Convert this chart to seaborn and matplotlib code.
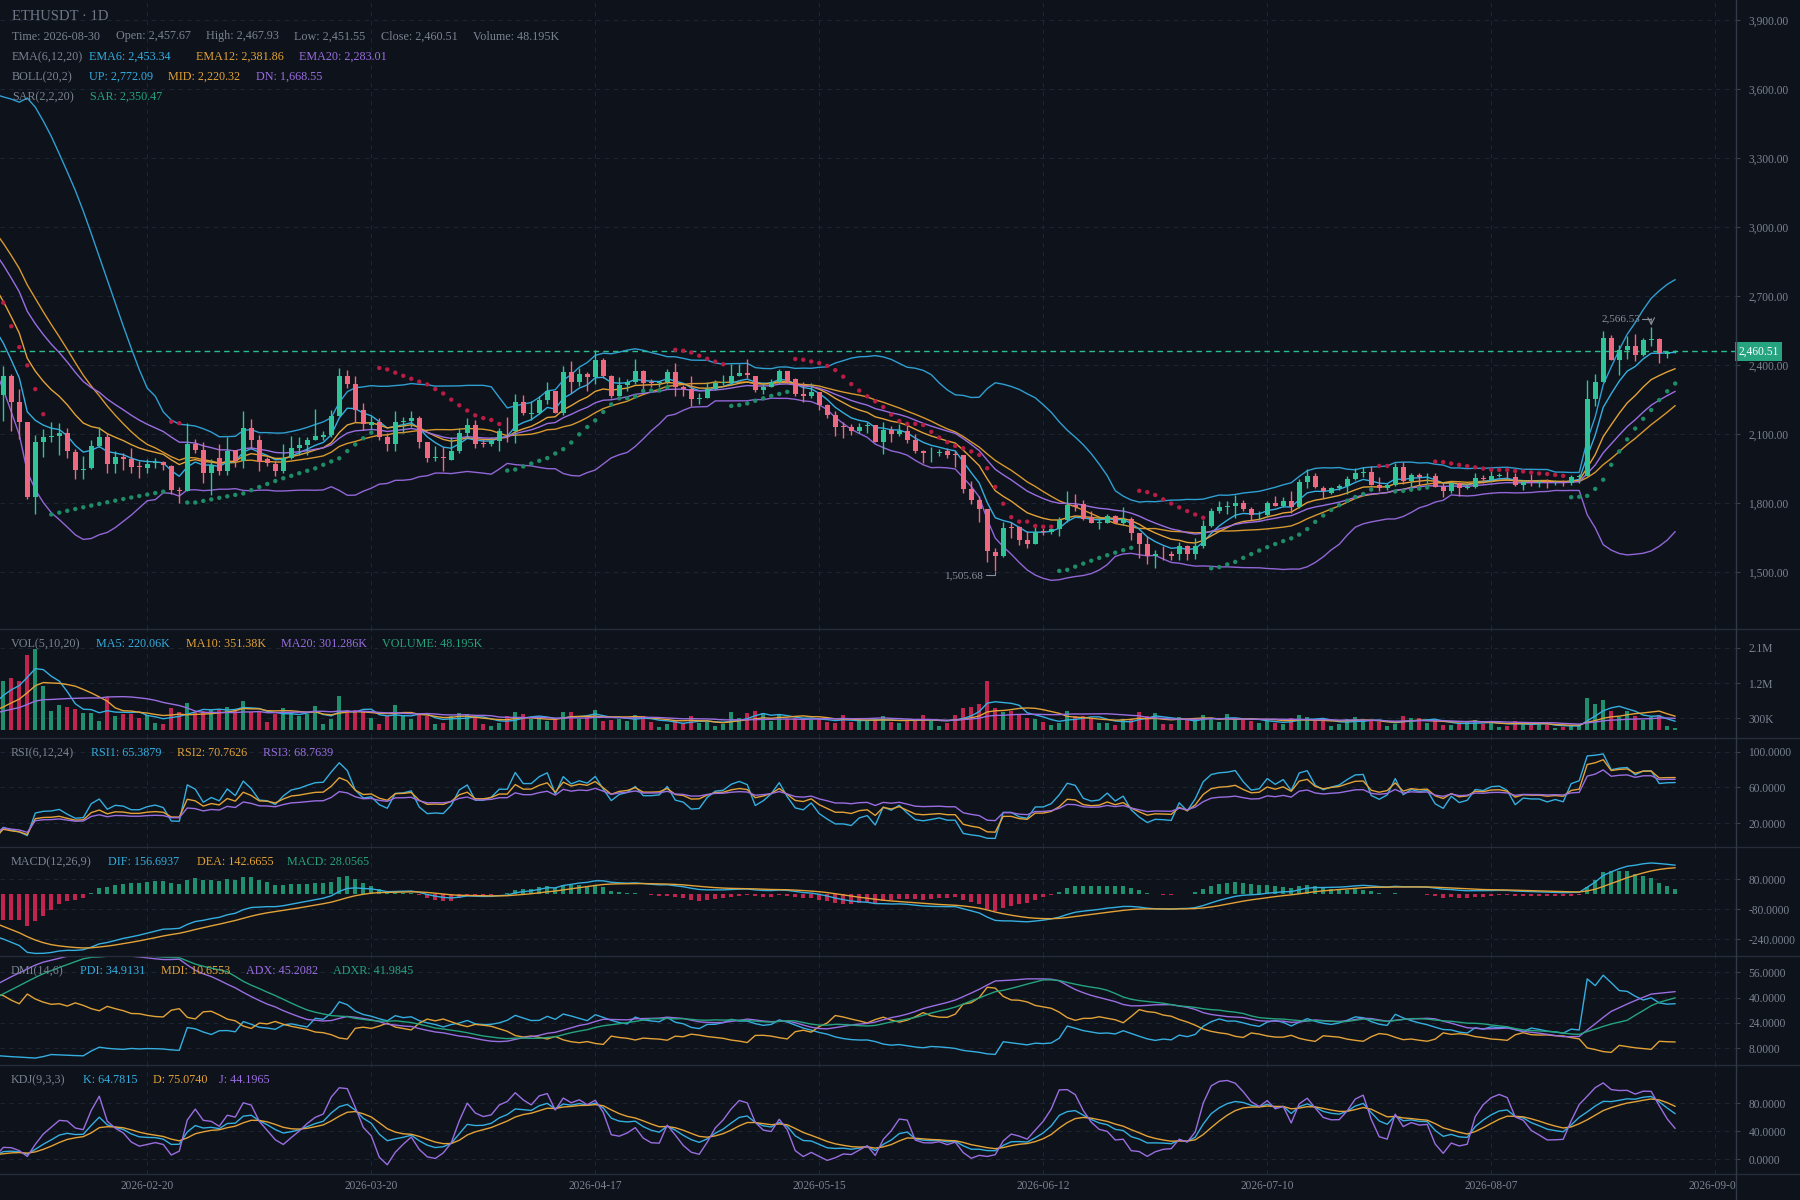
import numpy as np
import pandas as pd
import matplotlib
matplotlib.use('Agg')
import matplotlib.pyplot as plt
import seaborn as sns
from matplotlib.lines import Line2D
from matplotlib.transforms import blended_transform_factory

sns.set_theme(style='dark')
plt.rcParams['font.family'] = ['Liberation Serif', 'DejaVu Serif']

BG = '#0d121b'
GRID = '#1e2531'
TXT = '#7b8391'
CYAN = '#35aee0'
ORANGE = '#e3a238'
PURPLE = '#9a6ee0'
TEAL = '#26a37f'
UP = '#2ec497'
DOWN = '#ef6880'
VUP = '#1f8f6e'
VDOWN = '#c0254f'

# --- warm-up days before the visible window (only feed the indicators) ---
pre_open = [3400, 3420, 3460, 3390, 3350, 3410, 3440, 3380, 3330, 3360, 3400, 3370, 3320, 3340, 3310, 3290, 3320, 3300,
            3280, 3260, 3240, 3250, 3200, 3170, 3130, 3090, 3050, 2990, 2930, 2870, 2800, 2730, 2650, 2570, 2470]
pre_high = [3445, 3490, 3475, 3410, 3430, 3470, 3455, 3395, 3385, 3425, 3415, 3385, 3360, 3365, 3330, 3340, 3345, 3320,
            3335, 3285, 3310, 3265, 3215, 3245, 3145, 3170, 3070, 3010, 3040, 2895, 2820, 2870, 2680, 2595, 2490]
pre_low = [3370, 3395, 3375, 3320, 3335, 3385, 3360, 3300, 3310, 3340, 3350, 3290, 3300, 3290, 3260, 3265, 3275, 3255,
           3250, 3210, 3222, 3180, 3150, 3125, 3060, 3045, 2960, 2895, 2840, 2770, 2690, 2610, 2530, 2420, 2240]
pre_close = [3420, 3460, 3390, 3350, 3410, 3440, 3380, 3330, 3360, 3400, 3370, 3320, 3340, 3310, 3290, 3320, 3300, 3280,
             3260, 3240, 3250, 3200, 3170, 3130, 3090, 3050, 2990, 2930, 2870, 2800, 2730, 2650, 2570, 2470, 2275]
pre_vol = [320, 350, 300, 280, 330, 360, 310, 290, 300, 340, 330, 310, 290, 300, 320, 340,
           360, 380, 350, 370, 390, 380, 400, 370, 390, 360, 310, 280, 300, 290, 320, 600, 720, 880, 957]

# --- visible daily candles, 2026-02-02 .. 2026-08-30 ---
opens = [2271, 2351, 2238, 2151, 1829, 2067, 2086, 2094, 2106, 2023, 1946, 1951, 2049, 2088, 1972, 2001, 1993, 1960, 1954, 1974,
         1977, 1962, 1858, 1855, 2059, 2032, 1933, 1997, 1942, 2032, 1985, 2127, 2075, 1991, 1971, 1942, 1997, 2041, 2054, 2075,
         2090, 2097, 2180, 2354, 2319, 2206, 2140, 2152, 2090, 2058, 2154, 2158, 2171, 2064, 1995, 2000, 1988, 2027, 2106, 2141,
         2060, 2058, 2072, 2116, 2112, 2240, 2190, 2194, 2249, 2288, 2194, 2371, 2325, 2362, 2349, 2423, 2353, 2268, 2314, 2329,
         2375, 2329, 2322, 2326, 2371, 2307, 2296, 2253, 2256, 2296, 2322, 2322, 2351, 2364, 2353, 2293, 2307, 2329, 2375, 2340,
         2275, 2264, 2285, 2227, 2184, 2136, 2130, 2116, 2134, 2138, 2068, 2119, 2101, 2116, 2075, 2029, 2017, 2020, 2025, 2014,
         2010, 1862, 1814, 1775, 1587, 1572, 1697, 1696, 1641, 1623, 1678, 1674, 1687, 1725, 1791, 1795, 1740, 1716, 1716, 1745,
         1713, 1730, 1669, 1623, 1571, 1580, 1577, 1577, 1614, 1577, 1614, 1701, 1764, 1782, 1788, 1803, 1774, 1751, 1749, 1803,
         1788, 1811, 1782, 1894, 1919, 1868, 1846, 1865, 1875, 1904, 1932, 1936, 1879, 1865, 1879, 1956, 1897, 1923, 1917, 1920,
         1870, 1851, 1890, 1868, 1872, 1909, 1901, 1919, 1916, 1913, 1880, 1896, 1889, 1890, 1886, 1890, 1887, 1913, 1919, 2254,
         2326, 2520, 2423, 2467, 2484, 2445, 2510, 2514, 2448, 2457.67]
highs = [2397, 2362, 2296, 2155, 2097, 2122, 2154, 2148, 2126, 2035, 2006, 2075, 2130, 2104, 2027, 2020, 2039, 1985, 1994, 1996,
         1985, 1964, 1872, 2148, 2081, 2067, 1991, 2056, 2090, 2032, 2201, 2167, 2097, 2003, 1985, 2058, 2093, 2087, 2090, 2210,
         2112, 2204, 2388, 2380, 2353, 2235, 2180, 2170, 2104, 2201, 2174, 2201, 2177, 2064, 2049, 2043, 2087, 2126, 2170, 2162,
         2078, 2090, 2126, 2174, 2275, 2271, 2246, 2267, 2329, 2290, 2397, 2419, 2387, 2372, 2467, 2433, 2358, 2348, 2339, 2426,
         2380, 2340, 2333, 2382, 2409, 2314, 2351, 2278, 2325, 2336, 2358, 2404, 2406, 2427, 2353, 2325, 2339, 2384, 2377, 2343,
         2326, 2322, 2285, 2232, 2201, 2155, 2145, 2148, 2155, 2140, 2151, 2136, 2145, 2140, 2101, 2032, 2046, 2036, 2039, 2025,
         2010, 1897, 1832, 1775, 1607, 1720, 1720, 1701, 1677, 1698, 1690, 1698, 1742, 1854, 1840, 1814, 1764, 1742, 1751, 1748,
         1782, 1739, 1669, 1658, 1597, 1614, 1590, 1633, 1619, 1648, 1727, 1778, 1811, 1810, 1836, 1814, 1785, 1767, 1811, 1832,
         1826, 1851, 1904, 1948, 1930, 1875, 1869, 1884, 1919, 1952, 1959, 1962, 1913, 1887, 1974, 1981, 1933, 1933, 1933, 1933,
         1887, 1894, 1894, 1890, 1930, 1923, 1945, 1930, 1938, 1933, 1901, 1927, 1901, 1904, 1900, 1899, 1923, 1927, 2336, 2362,
         2549, 2532, 2488, 2525, 2536, 2517, 2566.53, 2517, 2459, 2467.93]
lows = [2159, 2116, 2081, 1820, 1751, 2000, 2068, 2010, 1996, 1907, 1904, 1948, 2046, 1933, 1930, 1945, 1930, 1910, 1930, 1952,
        1945, 1841, 1803, 1852, 2017, 1890, 1836, 1923, 1923, 1959, 1951, 2036, 1938, 1962, 1919, 1933, 1994, 2010, 2010, 2075,
        2075, 2090, 2177, 2300, 2155, 2119, 2119, 2075, 2029, 2029, 2104, 2133, 2038, 1977, 1985, 1942, 1988, 2017, 2087, 2039,
        2046, 2049, 2025, 2068, 2061, 2184, 2162, 2190, 2230, 2194, 2184, 2278, 2310, 2290, 2319, 2346, 2256, 2264, 2290, 2319,
        2290, 2304, 2307, 2319, 2267, 2264, 2223, 2232, 2256, 2293, 2314, 2314, 2351, 2343, 2284, 2275, 2304, 2319, 2322, 2264,
        2238, 2257, 2206, 2169, 2093, 2082, 2097, 2104, 2104, 2065, 2013, 2068, 2093, 2061, 2017, 1974, 1978, 2007, 1996, 1959,
        1843, 1797, 1720, 1546, 1505.68, 1568, 1648, 1619, 1605, 1623, 1660, 1667, 1658, 1720, 1764, 1727, 1713, 1687, 1713, 1713,
        1706, 1640, 1561, 1536, 1517, 1554, 1551, 1554, 1554, 1558, 1604, 1696, 1756, 1753, 1735, 1764, 1725, 1725, 1739, 1788,
        1782, 1756, 1778, 1865, 1865, 1822, 1840, 1858, 1840, 1901, 1916, 1879, 1851, 1858, 1875, 1884, 1872, 1880, 1890, 1870,
        1826, 1846, 1832, 1861, 1865, 1890, 1894, 1913, 1909, 1875, 1858, 1875, 1872, 1865, 1878, 1875, 1880, 1890, 1919, 2223,
        2326, 2423, 2359, 2426, 2420, 2440, 2485, 2411, 2433, 2451.55]
closes = [2351, 2238, 2151, 1829, 2067, 2088, 2092, 2106, 2025, 1946, 1950, 2049, 2087, 1972, 2001, 1993, 1958, 1958, 1971, 1977,
          1964, 1858, 1855, 2059, 2032, 1933, 1967, 1942, 2029, 1985, 2127, 2075, 1980, 1974, 1942, 1997, 2041, 2054, 2075, 2093,
          2096, 2180, 2354, 2319, 2206, 2143, 2152, 2090, 2058, 2154, 2158, 2171, 2064, 1997, 2000, 1995, 2027, 2106, 2141, 2058,
          2058, 2072, 2112, 2112, 2240, 2194, 2194, 2249, 2288, 2194, 2371, 2325, 2362, 2349, 2423, 2353, 2268, 2314, 2329, 2375,
          2322, 2322, 2326, 2371, 2307, 2296, 2255, 2257, 2296, 2322, 2326, 2351, 2364, 2357, 2293, 2307, 2329, 2375, 2329, 2275,
          2264, 2285, 2227, 2184, 2133, 2133, 2116, 2133, 2138, 2068, 2119, 2101, 2116, 2075, 2027, 2017, 2020, 2023, 2011, 2011,
          1862, 1814, 1775, 1590, 1572, 1694, 1694, 1641, 1623, 1674, 1674, 1687, 1725, 1793, 1785, 1730, 1716, 1720, 1745, 1716,
          1732, 1672, 1623, 1571, 1580, 1577, 1572, 1614, 1577, 1614, 1701, 1764, 1782, 1788, 1803, 1774, 1749, 1754, 1803, 1788,
          1811, 1782, 1894, 1919, 1869, 1851, 1865, 1875, 1904, 1933, 1936, 1879, 1865, 1879, 1956, 1897, 1923, 1916, 1920, 1872,
          1851, 1890, 1865, 1872, 1909, 1906, 1919, 1921, 1913, 1880, 1894, 1892, 1892, 1887, 1890, 1887, 1913, 1919, 2254, 2326,
          2520, 2423, 2467, 2484, 2445, 2510, 2513, 2452, 2459, 2460.51]
volumes = [1258, 1325, 1258, 1924, 2074, 1133, 483, 633, 583, 533, 433, 433, 233, 841, 358, 408, 408, 308, 392, 183,
           158, 558, 458, 683, 458, 483, 508, 533, 583, 525, 733, 458, 458, 208, 408, 558, 458, 358, 408, 608,
           158, 283, 858, 508, 508, 483, 308, 158, 358, 633, 383, 283, 383, 358, 158, 183, 358, 425, 400, 333,
           158, 108, 183, 358, 458, 408, 283, 283, 233, 283, 458, 458, 283, 358, 508, 233, 258, 283, 233, 383,
           358, 208, 83, 158, 233, 183, 358, 183, 208, 108, 158, 458, 308, 433, 483, 433, 233, 408, 283, 308,
           283, 258, 283, 208, 183, 383, 208, 233, 233, 258, 358, 208, 183, 233, 258, 383, 258, 108, 183, 383,
           558, 583, 658, 1258, 558, 458, 483, 408, 308, 283, 208, 133, 183, 483, 358, 358, 308, 183, 183, 133,
           283, 283, 458, 358, 433, 158, 158, 333, 258, 258, 383, 283, 208, 408, 283, 258, 233, 183, 233, 183,
           158, 308, 383, 333, 233, 233, 108, 158, 283, 333, 233, 233, 208, 108, 158, 358, 308, 308, 183, 233,
           133, 133, 158, 208, 258, 158, 208, 83, 108, 233, 158, 133, 158, 133, 58, 83, 108, 133, 808, 658,
           758, 483, 333, 483, 358, 258, 333, 383, 108, 48.195]

start_date = pd.Timestamp('2026-02-02')
date_labels = ['2026-02-20', '2026-03-20', '2026-04-17', '2026-05-15', '2026-06-12', '2026-07-10', '2026-08-07', '2026-09-04']

n_pre = len(pre_close)
df = pd.DataFrame({
    'open': pre_open + opens, 'high': pre_high + highs, 'low': pre_low + lows,
    'close': pre_close + closes, 'vol': pre_vol + volumes,
}, dtype=float)
df.index = np.arange(len(df)) - n_pre
cl = df['close']

# indicators
ema = {n: cl.ewm(span=n, adjust=False).mean() for n in (6, 12, 20)}
mid = cl.rolling(20).mean()
sd = cl.rolling(20).std(ddof=0)
boll_up, boll_dn = mid + 2 * sd, mid - 2 * sd
vol_ma = {n: df['vol'].rolling(n).mean() for n in (5, 10, 20)}


def sma_cn(s, n, m=1):
    return s.ewm(alpha=m / n, adjust=False).mean()


diff = cl.diff().fillna(0)
rsi = {n: sma_cn(diff.clip(lower=0), n) / sma_cn(diff.abs(), n) * 100 for n in (6, 12, 24)}

dif = cl.ewm(span=12, adjust=False).mean() - cl.ewm(span=26, adjust=False).mean()
dea = dif.ewm(span=9, adjust=False).mean()
hist = 2 * (dif - dea)

# DMI with Wilder smoothing
cp = cl.shift()
tr = pd.concat([df['high'] - df['low'], (df['high'] - cp).abs(), (df['low'] - cp).abs()], axis=1).max(axis=1)
hd = df['high'] - df['high'].shift()
ld = df['low'].shift() - df['low']
dmp = pd.Series(np.where((hd > 0) & (hd > ld), hd, 0.0), index=df.index)
dmm = pd.Series(np.where((ld > 0) & (ld > hd), ld, 0.0), index=df.index)
atr = sma_cn(tr.fillna(0), 14)
pdi = sma_cn(dmp, 14) * 100 / atr
mdi = sma_cn(dmm, 14) * 100 / atr
dx = ((mdi - pdi).abs() / (mdi + pdi) * 100).fillna(0)
adx = sma_cn(dx, 14)
adxr = (adx + adx.shift(6)) / 2

llv = df['low'].rolling(9, min_periods=1).min()
hhv = df['high'].rolling(9, min_periods=1).max()
rsv = (cl - llv) / (hhv - llv) * 100
kk = sma_cn(rsv, 3)
dd = sma_cn(kk, 3)
jj = 3 * kk - 2 * dd


def parabolic_sar(h, l, step=0.02, mx=0.2):
    n = len(h)
    out = np.zeros(n)
    trend = np.zeros(n, dtype=bool)
    up, af, ep, s = False, step, l[0], h[0]
    out[0] = s
    for i in range(1, n):
        s = s + af * (ep - s)
        if up:
            s = min(s, l[i - 1], l[max(i - 2, 0)])
            if l[i] < s:
                up, s, ep, af = False, ep, l[i], step
            elif h[i] > ep:
                ep, af = h[i], min(af + step, mx)
        else:
            s = max(s, h[i - 1], h[max(i - 2, 0)])
            if h[i] > s:
                up, s, ep, af = True, ep, h[i], step
            elif l[i] < ep:
                ep, af = l[i], min(af + step, mx)
        out[i] = s
        trend[i] = up
    return out, trend


sar, sar_up = parabolic_sar(df['high'].values, df['low'].values)
sar = pd.Series(sar, index=df.index)
sar_up = pd.Series(sar_up, index=df.index)

# layout (pixel rows of the 1800x1200 canvas)
fig = plt.figure(figsize=(18, 12), dpi=100, facecolor=BG)
W = 1736 / 1800
XL = (-0.41, 216.6)
date_pos = [(pd.Timestamp(d) - start_date).days for d in date_labels]


def panel(top, bottom):
    ax = fig.add_axes([0, 1 - bottom / 1200, W, (bottom - top) / 1200])
    ax.set_facecolor(BG)
    for sp in ax.spines.values():
        sp.set_visible(False)
    return ax


def style(ax, ylim, ticks, labels):
    ax.set_xlim(*XL)
    ax.set_ylim(*ylim)
    ax.set_xticks(date_pos)
    ax.set_xticklabels([])
    ax.tick_params(axis='x', length=0)
    ax.yaxis.tick_right()
    ax.set_yticks(ticks)
    ax.set_yticklabels(labels)
    ax.tick_params(axis='y', colors='#3a414d', labelcolor=TXT, labelsize=8.3, length=3, pad=6, width=0.8)
    ax.grid(True, color=GRID, ls=(0, (4, 4)), lw=0.8)
    ax.set_xlabel('')
    ax.set_ylabel('')


def line(ax, s, color, lw=1.0):
    s = s[s.index >= -3].dropna()
    sns.lineplot(x=s.index.values, y=s.values, ax=ax, color=color, linewidth=lw,
                 estimator=None, errorbar=None, sort=False)


ax_main = panel(0, 629)
ax_vol = panel(629, 738)
ax_rsi = panel(738, 847)
ax_macd = panel(847, 956)
ax_dmi = panel(956, 1065)
ax_kdj = panel(1065, 1174)
ax_date = panel(1174, 1200)

# main chart
for s, c in ((boll_up, '#2f9fd2'), (mid, '#d8982f'), (boll_dn, '#9266d6'),
             (ema[6], CYAN), (ema[12], ORANGE), (ema[20], PURPLE)):
    line(ax_main, s, c)

vis = df.loc[0:]
cols = np.where(vis['close'] >= vis['open'], UP, DOWN)
ax_main.vlines(vis.index, vis['low'], vis['high'], colors=cols, lw=1.0, zorder=3)
body = (vis['close'] - vis['open']).abs().clip(lower=3)
ax_main.bar(vis.index, body, bottom=np.minimum(vis['open'], vis['close']), width=0.58,
            color=cols, linewidth=0, zorder=4)

sv = sar.loc[0:]
ax_main.scatter(sv.index, sv.values, s=10, c=np.where(sar_up.loc[0:], '#1f8c68', '#b81d45'),
                linewidths=0, zorder=5)

last = closes[-1]
ax_main.axhline(last, color='#2bbd8e', ls=(0, (4, 3)), lw=1.0, zorder=2)
ax_main.text(1.0015, last, f'{last:,.2f}', transform=blended_transform_factory(ax_main.transAxes, ax_main.transData),
             color='white', fontsize=8.3, va='center', ha='left',
             bbox=dict(boxstyle='square,pad=0.3', fc='#26a37f', ec='none'))

hi_i = int(np.argmax(highs))
lo_i = int(np.argmin(lows))
hi_v, lo_v = highs[hi_i], lows[lo_i]
ax_main.text(hi_i - 1.4, hi_v + 35, f'{hi_v:,.2f}', color='#8a909c', fontsize=8, ha='right', va='center')
ax_main.plot([hi_i - 1.2, hi_i], [hi_v + 35, hi_v + 35], color='#8a909c', lw=0.8)
ax_main.annotate('', xy=(hi_i, hi_v + 6), xytext=(hi_i, hi_v + 36),
                 arrowprops=dict(arrowstyle='->', color='#8a909c', lw=0.8, shrinkA=0, shrinkB=0))
ax_main.text(lo_i - 1.4, lo_v - 20, f'{lo_v:,.2f}', color='#8a909c', fontsize=8, ha='right', va='center')
ax_main.plot([lo_i - 1.2, lo_i, lo_i], [lo_v - 20, lo_v - 20, lo_v - 4], color='#8a909c', lw=0.8)

style(ax_main, (1253, 3988), [1500, 1800, 2100, 2400, 2700, 3000, 3300, 3600, 3900],
      [f'{v:,.2f}' for v in [1500, 1800, 2100, 2400, 2700, 3000, 3300, 3600, 3900]])

# volume
vv = df.loc[0:]
vcols = np.where(vv['close'] >= vv['open'], VUP, VDOWN)
ax_vol.bar(vv.index, vv['vol'], width=0.55, color=vcols, linewidth=0)
for n, c in ((5, CYAN), (10, ORANGE), (20, PURPLE)):
    line(ax_vol, vol_ma[n], c)
style(ax_vol, (-201, 2578), [300, 1200, 2100], ['300K', '1.2M', '2.1M'])

# RSI
for n, c in ((6, CYAN), (12, ORANGE), (24, PURPLE)):
    line(ax_rsi, rsi[n], c)
style(ax_rsi, (-6.9, 115.6), [20, 60, 100], ['20.0000', '60.0000', '100.0000'])

# MACD
hv = hist.loc[0:]
ax_macd.bar(hv.index, hv.values, width=0.5, color=np.where(hv >= 0, VUP, VDOWN), linewidth=0)
line(ax_macd, dif, CYAN)
line(ax_macd, dea, ORANGE)
style(ax_macd, (-330.6, 253.7), [-240, -80, 80], ['-240.0000', '-80.0000', '80.0000'])

# DMI
for s, c in ((pdi, CYAN), (mdi, ORANGE), (adx, PURPLE), (adxr, TEAL)):
    line(ax_dmi, s, c)
style(ax_dmi, (-2.7, 66.4), [8, 24, 40, 56], ['8.0000', '24.0000', '40.0000', '56.0000'])

# KDJ
for s, c in ((kk, CYAN), (dd, ORANGE), (jj, PURPLE)):
    line(ax_kdj, s, c)
style(ax_kdj, (-20.6, 134.2), [0, 40, 80], ['0.0000', '40.0000', '80.0000'])

# date strip (labels clipped at the price axis like the original)
ax_date.set_xlim(*XL)
ax_date.set_ylim(0, 1)
ax_date.set_xticks([])
ax_date.set_yticks([])
tr_date = blended_transform_factory(ax_date.transData, ax_date.transAxes)
for p, lab in zip(date_pos, date_labels):
    ax_date.text(p, 0.55, lab, transform=tr_date, color=TXT, fontsize=8.3, ha='center', va='center', clip_on=True)

# separators and price-axis border
for y in (629, 738, 847, 956, 1065, 1174):
    fig.add_artist(Line2D([0, 1], [1 - y / 1200] * 2, color='#262d39', lw=1.0, transform=fig.transFigure))
fig.add_artist(Line2D([W, W], [0, 1], color='#323946', lw=1.0, transform=fig.transFigure))


def ftxt(px, py, s, color=TXT, size=8.7):
    fig.text(px / 1800, 1 - py / 1200, s, color=color, fontsize=size, va='center', ha='left')


ftxt(12, 16, 'ETHUSDT · 1D', '#6f7787', 10.5)
for px, s in ((12, 'Time: 2026-08-30'), (116, 'Open: 2,457.67'), (206, 'High: 2,467.93'),
              (294, 'Low: 2,451.55'), (381, 'Close: 2,460.51'), (473, 'Volume: 48.195K')):
    ftxt(px, 36.5, s)
legend_rows = [
    (57, [(12, 'EMA(6,12,20)', TXT), (89, 'EMA6: 2,453.34', CYAN), (196, 'EMA12: 2,381.86', ORANGE), (299, 'EMA20: 2,283.01', PURPLE)]),
    (77, [(12, 'BOLL(20,2)', TXT), (89, 'UP: 2,772.09', CYAN), (168, 'MID: 2,220.32', ORANGE), (256, 'DN: 1,668.55', PURPLE)]),
    (97, [(12, 'SAR(2,2,20)', TXT), (90, 'SAR: 2,350.47', TEAL)]),
    (644, [(11, 'VOL(5,10,20)', TXT), (96, 'MA5: 220.06K', CYAN), (186, 'MA10: 351.38K', ORANGE), (281, 'MA20: 301.286K', PURPLE), (382, 'VOLUME: 48.195K', TEAL)]),
    (753, [(11, 'RSI(6,12,24)', TXT), (91, 'RSI1: 65.3879', CYAN), (177, 'RSI2: 70.7626', ORANGE), (263, 'RSI3: 68.7639', PURPLE)]),
    (862, [(11, 'MACD(12,26,9)', TXT), (108, 'DIF: 156.6937', CYAN), (197, 'DEA: 142.6655', ORANGE), (287, 'MACD: 28.0565', TEAL)]),
    (971, [(11, 'DMI(14,6)', TXT), (80, 'PDI: 34.9131', CYAN), (161, 'MDI: 10.6553', ORANGE), (246, 'ADX: 45.2082', PURPLE), (333, 'ADXR: 41.9845', TEAL)]),
    (1080, [(11, 'KDJ(9,3,3)', TXT), (83, 'K: 64.7815', CYAN), (153, 'D: 75.0740', ORANGE), (219, 'J: 44.1965', PURPLE)]),
]
for py, items in legend_rows:
    for px, s, c in items:
        ftxt(px, py, s, c)

fig.savefig('out.png', dpi=100, facecolor=BG)
